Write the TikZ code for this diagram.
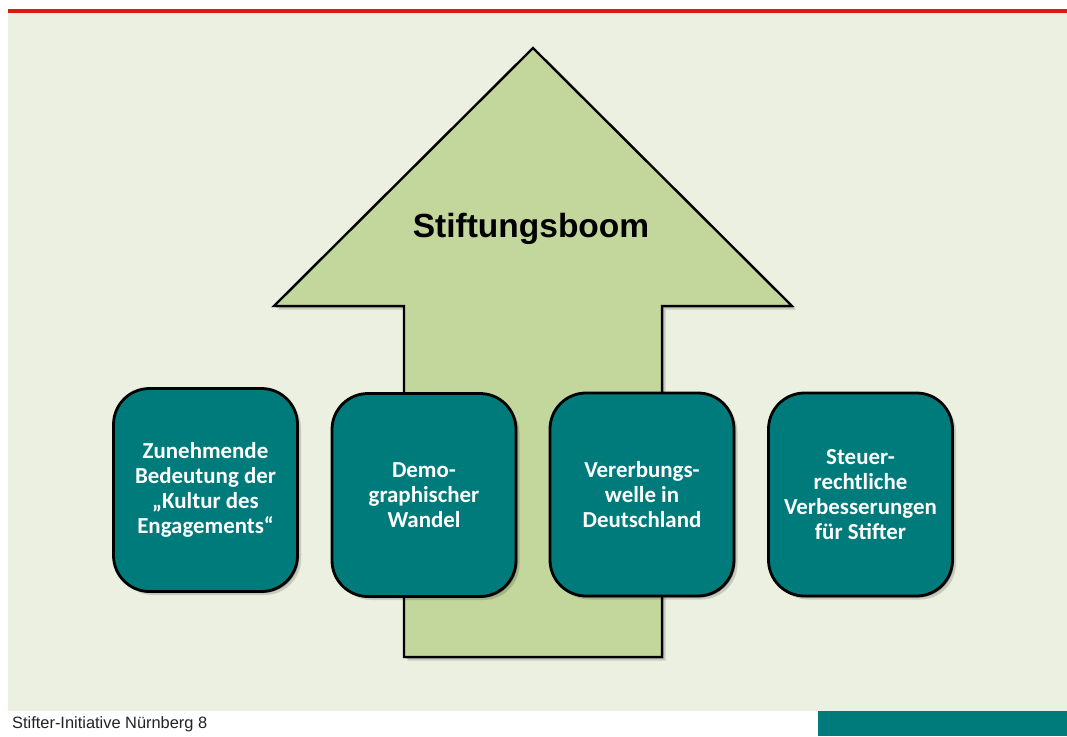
\documentclass[tikz,border=0pt]{standalone}
\usepackage{fontspec}
\setmainfont{Carlito}
\newfontfamily\arialfont{Liberation Sans}
\usetikzlibrary{shadows}
\definecolor{bgcol}{HTML}{EBF0E0}
\definecolor{arrowcol}{HTML}{C3D69B}
\definecolor{tealcol}{HTML}{007B7B}
\definecolor{redcol}{HTML}{E01A0E}
\definecolor{footcol}{HTML}{222222}
\tikzset{
  softshadow/.style={
    drop shadow={shadow xshift=1.5pt,shadow yshift=-1.5pt,opacity=0.3,fill=black},
    drop shadow={shadow xshift=3.5pt,shadow yshift=-3.5pt,opacity=0.15,fill=black}},
  factorbox/.style={draw=black,line width=2.8pt,fill=tealcol,rounded corners=36pt,
    minimum width=184pt,minimum height=203pt,inner sep=0pt,align=center,
    text=white,font=\bfseries\fontsize{22.9}{25}\selectfont,softshadow},
  bigarrow/.style={draw=black,line width=2.4pt,fill=arrowcol,line join=miter,softshadow},
}
\begin{document}
\begin{tikzpicture}[x=1pt,y=-1pt]
\useasboundingbox (0,0) rectangle (1067,736);
\fill[white] (0,0) rectangle (1067,736);
\fill[bgcol] (8,13) rectangle (1067,711);
\fill[redcol] (8,9) rectangle (1067,13);
\fill[tealcol] (818,711) rectangle (1067,736);
\path[bigarrow] (533,48) -- (792,306) -- (662,306) -- (662,657) -- (404,657)
  -- (404,306) -- (274,306) -- cycle;
\node[anchor=base,font=\arialfont\bfseries\fontsize{33.5}{36}\selectfont] (title) at (531,237) {Stiftungsboom};
\node[factorbox] (f1) at (205.5,490) {Zunehmende\\Bedeutung der\\„Kultur des\\Engagements“};
\node[factorbox] (f2) at (424,495) {Demo-\\graphischer\\Wandel};
\node[factorbox] (f3) at (642,494.5) {Vererbungs-\\welle in\\Deutschland};
\node[factorbox] (f4) at (860.5,494.5) {Steuer-\\rechtliche\\Verbesserungen\\für Stifter};
\node[anchor=base west,inner sep=0pt,text=footcol,font=\arialfont\fontsize{16.4}{18}\selectfont] (foot) at (12,728) {Stifter-Initiative Nürnberg 8};
\end{tikzpicture}
\end{document}
